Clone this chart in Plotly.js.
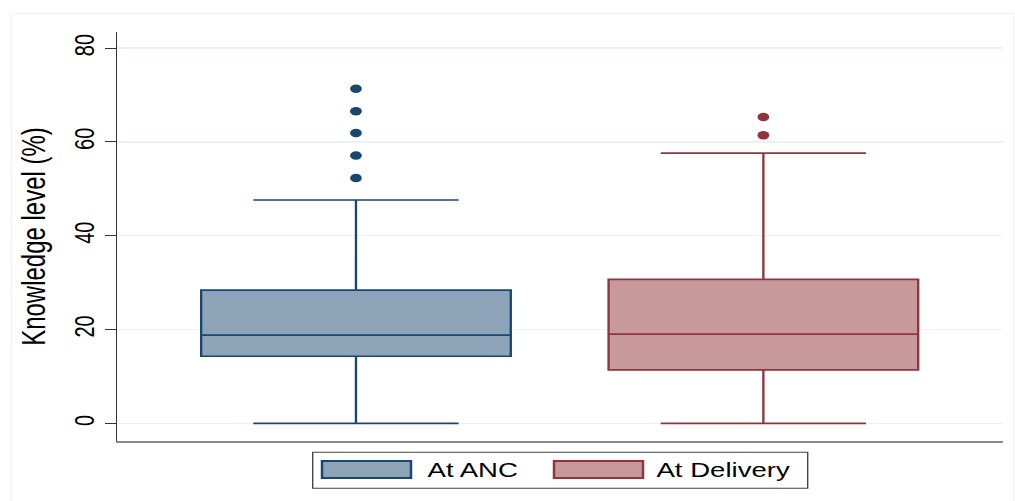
<!DOCTYPE html>
<html>
<head>
<meta charset="utf-8">
<script src="https://cdn.plot.ly/plotly-3.0.1.min.js"></script>
<style>
  html, body { margin: 0; padding: 0; background: #ffffff; overflow: hidden; }
  #wrap { position: relative; width: 1015px; height: 501px; overflow: hidden; }
  #chart { position: absolute; left: 0; top: 0; width: 736px; height: 501px;
           transform: scaleX(1.379); transform-origin: 0 0; }
  #frame { position: absolute; left: 11px; top: 13px; width: 1003px; height: 490px;
           border: 1px solid #eef3f5; pointer-events: none; box-sizing: border-box; }
</style>
</head>
<body>
<div id="wrap">
  <div id="chart"></div>
  <div id="frame"></div>
</div>
<script>
// ---- data ----
const categories = ["At ANC", "At Delivery"];
const q1Vals = [14.3, 11.4];
const medianVals = [18.8, 19.0];
const q3Vals = [28.4, 30.7];
const lowerFenceVals = [0, 0];
const upperFenceVals = [47.6, 57.6];
const outliersANC = [52.3, 57.1, 61.9, 66.5, 71.3];
const outliersDelivery = [61.4, 65.3];
const outlierSets = [outliersANC, outliersDelivery];
const yTickVals = [0, 20, 40, 60, 80];
const yTickText = ["0", "20", "40", "60", "80"];
const yTitle = "Knowledge level (%)";

// ---- styles ----
const fillColors = ["#8DA3B7", "#C7999B"];
const lineColors = ["#1A476F", "#90353B"];
const FONT = "Liberation Sans, Arial, sans-serif";

const traces = [];
categories.forEach((cat, i) => {
  traces.push({
    type: "box",
    name: cat,
    x: [cat],
    q1: [q1Vals[i]],
    median: [medianVals[i]],
    q3: [q3Vals[i]],
    lowerfence: [lowerFenceVals[i]],
    upperfence: [upperFenceVals[i]],
    width: 0.76,
    whiskerwidth: 0.663,
    fillcolor: fillColors[i],
    line: { color: lineColors[i], width: 1.7 },
    boxpoints: false,
    showlegend: false,
    hoverinfo: "y"
  });
  traces.push({
    type: "scatter",
    mode: "markers",
    x: outlierSets[i].map(() => cat),
    y: outlierSets[i],
    marker: { color: lineColors[i], size: 8.5 },
    showlegend: false,
    hoverinfo: "y"
  });
});

// custom legend (large swatches like the original)
const W = 736, H = 501;
const margin = { l: 85, r: 9, t: 32, b: 60 };
const pw = W - margin.l - margin.r, ph = H - margin.t - margin.b;
const s = 1.379;
const px = X => (X / s - margin.l) / pw;      // reference px -> paper x
const py = Y => (H - margin.b - Y) / ph;      // reference px -> paper y

const shapes = [{
  type: "rect", xref: "paper", yref: "paper",
  x0: px(312.7), x1: px(807.7), y0: py(488.3), y1: py(452.3),
  line: { color: "#444444", width: 1 }, fillcolor: "#ffffff", layer: "above"
}];
const swatchX = [[322, 411], [554, 643]];
const textX = [425, 654];
const annotations = [];
categories.forEach((cat, i) => {
  shapes.push({
    type: "rect", xref: "paper", yref: "paper",
    x0: px(swatchX[i][0]), x1: px(swatchX[i][1]), y0: py(478), y1: py(461),
    line: { color: lineColors[i], width: 1.8 }, fillcolor: fillColors[i], layer: "above"
  });
  annotations.push({
    xref: "paper", yref: "paper", x: px(textX[i]), y: py(470),
    xanchor: "left", yanchor: "middle", showarrow: false,
    text: cat, font: { family: FONT, size: 20, color: "#000000" }
  });
});

const layout = {
  width: W, height: H,
  margin: margin,
  paper_bgcolor: "rgba(0,0,0,0)",
  plot_bgcolor: "#ffffff",
  showlegend: false,
  font: { family: FONT, color: "#000000" },
  xaxis: {
    type: "category",
    categoryorder: "array", categoryarray: categories,
    range: [-0.586, 1.587],
    showticklabels: false, ticks: "",
    showgrid: false, zeroline: false,
    showline: true, linecolor: "#8a8a8a", linewidth: 2.2,
    fixedrange: true
  },
  yaxis: {
    range: [-3.77, 83.41],
    tickvals: yTickVals, ticktext: yTickText,
    tickangle: -90,
    tickfont: { family: FONT, size: 20, color: "#000000" },
    ticks: "outside", ticklen: 7.5, tickwidth: 1, tickcolor: "#333333",
    showline: true, linecolor: "#333333", linewidth: 1,
    showgrid: true, gridcolor: "#eaf2f3", gridwidth: 1.5,
    zeroline: false,
    title: { text: yTitle, font: { family: FONT, size: 24, color: "#000000" }, standoff: 10 },
    fixedrange: true
  },
  shapes: shapes,
  annotations: annotations
};

Plotly.newPlot("chart", traces, layout, { displayModeBar: false, staticPlot: true });
</script>
</body>
</html>
